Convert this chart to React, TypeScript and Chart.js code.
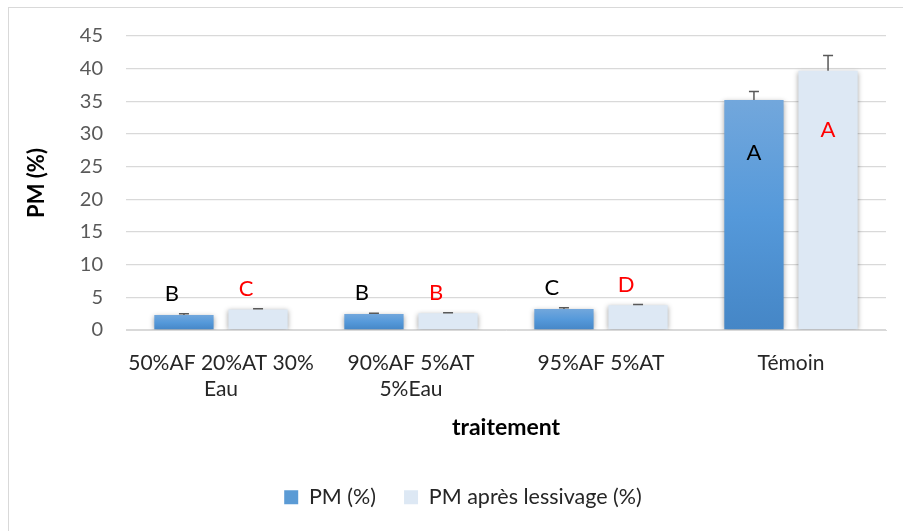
import React, { useEffect, useRef } from "react";
import { Chart, registerables } from "chart.js";

Chart.register(...registerables);

// ---- data ----
const categories: (string | string[])[] = [
  ["50%AF 20%AT 30%", "Eau"],
  ["90%AF 5%AT", "5%Eau"],
  "95%AF 5%AT",
  "Témoin",
];
const seriesNames = ["PM (%)", "PM après lessivage (%)"];
const pm = [2.3, 2.45, 3.2, 35.2];
const pmErr = [0.2, 0.1, 0.2, 1.3];
const pmLetters = ["B", "B", "C", "A"];
const pmApres = [3.15, 2.55, 3.8, 39.7];
const pmApresErr = [0.1, 0.1, 0.1, 2.3];
const pmApresLetters = ["C", "B", "D", "A"];
const yMin = 0;
const yMax = 45;
const yStep = 5;
const yTitle = "PM (%)";
const xTitle = "traitement";

const FONT = "Lato";
const letterColors = ["#000000", "#ff0000"];
const errors = [pmErr, pmApresErr];
const letters = [pmLetters, pmApresLetters];

const blueGradient = (c: any) => {
  const chart = c.chart;
  const ys = chart.scales && chart.scales.y;
  if (c.type !== "data" || !ys || !chart.chartArea) return "#5b9bd5";
  const v = c.raw as number;
  const y0 = ys.getPixelForValue(0);
  const y1 = ys.getPixelForValue(v);
  if (!isFinite(y0) || !isFinite(y1) || y0 === y1) return "#5b9bd5";
  const g = chart.ctx.createLinearGradient(0, y1, 0, y0);
  g.addColorStop(0, "#72a7dc");
  g.addColorStop(0.5, "#5599da");
  g.addColorStop(1, "#4586c6");
  return g;
};

const shadowPlugin = {
  id: "shadowAndMarks",
  afterLayout(chart: any) {
    if (chart.legend) {
      chart.legend.left += 16;
      chart.legend.right += 16;
    }
  },
  beforeDatasetsDraw(chart: any) {
    const ctx = chart.ctx;
    ctx.save();
    ctx.shadowColor = "rgba(0,0,0,0.35)";
    ctx.shadowBlur = 5;
    ctx.shadowOffsetX = 0;
    ctx.shadowOffsetY = 1;
  },
  afterDatasetsDraw(chart: any) {
    const ctx = chart.ctx;
    ctx.restore();
    const ys = chart.scales.y;
    chart.data.datasets.forEach((ds: any, di: number) => {
      const meta = chart.getDatasetMeta(di);
      meta.data.forEach((bar: any, i: number) => {
        const v = ds.data[i] as number;
        const e = errors[di][i];
        const yTop = ys.getPixelForValue(v);
        const yErr = ys.getPixelForValue(v + e);
        // error bar
        ctx.save();
        ctx.strokeStyle = "#595959";
        ctx.lineWidth = 1.5;
        ctx.beginPath();
        ctx.moveTo(bar.x, yTop);
        ctx.lineTo(bar.x, yErr);
        ctx.moveTo(bar.x - 5, yErr);
        ctx.lineTo(bar.x + 5, yErr);
        ctx.stroke();
        ctx.restore();
        // significance letter
        ctx.save();
        ctx.font = `22px ${FONT}`;
        ctx.fillStyle = letterColors[di];
        ctx.textAlign = "center";
        ctx.textBaseline = "middle";
        let lx = bar.x;
        let ly;
        if (v > 20) {
          ly = ys.getPixelForValue(v * 0.77);
        } else {
          ly = yErr - 20;
          lx = bar.x - 12;
        }
        ctx.fillText(letters[di][i], lx, ly);
        ctx.restore();
      });
    });
  },
};

export default function App() {
  const ref = useRef<HTMLCanvasElement | null>(null);

  useEffect(() => {
    if (!ref.current) return;
    const chart = new Chart(ref.current, {
      type: "bar",
      data: {
        labels: categories as any,
        datasets: [
          {
            label: seriesNames[0],
            data: pm,
            backgroundColor: blueGradient as any,
            borderWidth: 0,
            categoryPercentage: 0.78,
            barPercentage: 0.8,
          },
          {
            label: seriesNames[1],
            data: pmApres,
            backgroundColor: "#dde8f4",
            borderWidth: 0,
            categoryPercentage: 0.78,
            barPercentage: 0.8,
          },
        ],
      },
      options: {
        animation: false,
        responsive: false,
        maintainAspectRatio: false,
        layout: { padding: { left: 8, right: 17, top: 36, bottom: 13 } },
        plugins: {
          tooltip: { enabled: false },
          legend: {
            position: "bottom",
            labels: {
              color: "#262626",
              font: { family: FONT, size: 21.5 },
              boxWidth: 14,
              boxHeight: 14,
              padding: 28,
              generateLabels: (chart: any) =>
                chart.data.datasets.map((ds: any, i: number) => ({
                  text: ds.label,
                  fillStyle: i === 0 ? "#5b9bd5" : "#dde8f4",
                  strokeStyle: "rgba(0,0,0,0)",
                  lineWidth: 0,
                  hidden: false,
                  datasetIndex: i,
                  fontColor: "#262626",
                })),
            },
          },
        },
        scales: {
          x: {
            grid: { display: false, drawTicks: false },
            border: { display: true, color: "#d9d9d9" },
            ticks: {
              color: "#262626",
              font: { family: FONT, size: 21, lineHeight: 1.25 },
              padding: 20,
              maxRotation: 0,
              autoSkip: false,
            },
            title: {
              display: true,
              text: xTitle,
              color: "#000000",
              font: { family: FONT, size: 23, weight: "bold" },
              padding: { top: 17.5, bottom: 17.5 },
            },
            afterFit: (s: any) => {
              s.height = 128.5;
            },
          },
          y: {
            min: yMin,
            max: yMax,
            grid: { color: "#d9d9d9", drawTicks: false, lineWidth: 1.3 },
            border: { display: false },
            ticks: {
              stepSize: yStep,
              color: "#595959",
              font: { family: FONT, size: 20 },
              padding: 23,
            },
            title: {
              display: true,
              text: yTitle,
              color: "#000000",
              font: { family: FONT, size: 22, weight: "bold" },
              padding: { top: 16, bottom: 16 },
            },
            afterFit: (s: any) => {
              s.width = 118;
            },
          },
        },
      },
      plugins: [shadowPlugin],
    });
    return () => chart.destroy();
  }, []);

  return (
    <div style={{ position: "fixed", left: 0, top: 0, width: 903, height: 531, background: "#ffffff", overflow: "hidden" }}>
      <div
        style={{
          position: "absolute",
          left: 8,
          top: 7,
          width: 1000,
          height: 1000,
          borderLeft: "1.5px solid #d9d9d9",
          borderTop: "1.5px solid #d9d9d9",
        }}
      />
      <canvas ref={ref} width={903} height={531} style={{ position: "absolute", left: 0, top: 0 }} />
    </div>
  );
}
